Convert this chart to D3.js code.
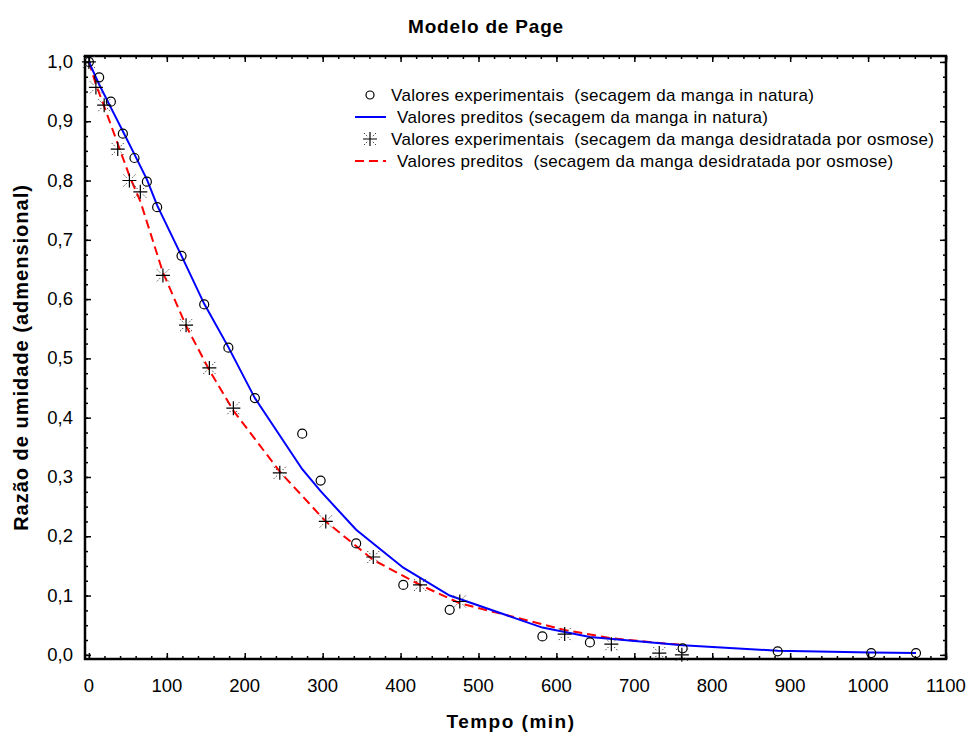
<!DOCTYPE html>
<html>
<head>
<meta charset="utf-8">
<script src="https://cdn.jsdelivr.net/npm/d3@7"></script>
<style>
  body { margin: 0; background: #fff; }
  text { font-family: "Liberation Sans", Arial, sans-serif; fill: #000; }
</style>
</head>
<body>
<svg id="chart" width="972" height="736"></svg>
<script>
// experimental + predicted (in natura)
const tNatura = [0, 13.2, 28.2, 43.6, 58.5, 74.4, 87.6, 118.9, 148, 179, 213, 273.8, 297.4, 343, 403.5, 463, 582, 643, 762, 884, 1004, 1061.5];
const mrNatura = [1.0, 0.974, 0.933, 0.879, 0.838, 0.798, 0.755, 0.673, 0.591, 0.518, 0.433, 0.373, 0.294, 0.188, 0.118, 0.076, 0.031, 0.021, 0.011, 0.006, 0.003, 0.003];
const predNatura = [1.0, 0.962, 0.923, 0.883, 0.844, 0.802, 0.758, 0.673, 0.592, 0.519, 0.433, 0.313, 0.276, 0.211, 0.147, 0.100, 0.046, 0.030, 0.016, 0.007, 0.004, 0.003];

// experimental + predicted (desidratada por osmose)
const tOsmose = [0, 9, 19.6, 37, 52, 66, 95, 124.7, 154.6, 185.4, 245, 304, 365, 425, 476, 610.6, 670.5, 732, 761];
const mrOsmose = [1.0, 0.957, 0.927, 0.853, 0.800, 0.781, 0.640, 0.556, 0.484, 0.416, 0.307, 0.225, 0.165, 0.118, 0.090, 0.035, 0.018, 0.003, 0.000];
const predOsmose = [1.0, 0.962, 0.925, 0.862, 0.808, 0.765, 0.645, 0.555, 0.480, 0.412, 0.309, 0.225, 0.160, 0.118, 0.087, 0.042, 0.028, 0.020, 0.017];

const xTicks = d3.range(0, 1101, 100);
const yTicks = d3.range(0, 10.5, 1).map(d => d / 10);

const legendLabels = [
  'Valores experimentais  (secagem da manga in natura)',
  'Valores preditos (secagem da manga in natura)',
  'Valores experimentais  (secagem da manga desidratada por osmose)',
  'Valores preditos  (secagem da manga desidratada por osmose)'
];

const svg = d3.select('#chart');
const plotL = 85, plotR = 946, plotT = 56, plotB = 659;

const x = d3.scaleLinear().domain([-5, 1100]).range([plotL, plotR]);
const y = d3.scaleLinear().domain([-0.007, 1.01]).range([plotB, plotT]);

const fmt = d3.format('.1f');
const comma = d => fmt(d).replace('.', ',');

// ticks pointing inward on all four sides
const g = svg.append('g');
const xMinor = d3.range(0, 1101, 20);
const yMinor = d3.range(0, 41, 1).map(d => d / 40);

g.append('g').attr('transform', `translate(0,${plotB})`)
  .call(d3.axisTop(x).tickValues(xMinor).tickSize(3).tickFormat(''));
g.append('g').attr('transform', `translate(0,${plotB})`)
  .call(d3.axisTop(x).tickValues(xTicks).tickSize(6).tickFormat(''));
g.append('g').attr('transform', `translate(0,${plotT})`)
  .call(d3.axisBottom(x).tickValues(xMinor).tickSize(3).tickFormat(''));
g.append('g').attr('transform', `translate(0,${plotT})`)
  .call(d3.axisBottom(x).tickValues(xTicks).tickSize(6).tickFormat(''));
g.append('g').attr('transform', `translate(${plotL},0)`)
  .call(d3.axisRight(y).tickValues(yMinor).tickSize(3).tickFormat(''));
g.append('g').attr('transform', `translate(${plotL},0)`)
  .call(d3.axisRight(y).tickValues(yTicks).tickSize(6).tickFormat(''));
g.append('g').attr('transform', `translate(${plotR},0)`)
  .call(d3.axisLeft(y).tickValues(yMinor).tickSize(3).tickFormat(''));
g.append('g').attr('transform', `translate(${plotR},0)`)
  .call(d3.axisLeft(y).tickValues(yTicks).tickSize(6).tickFormat(''));
g.selectAll('.domain').remove();
g.selectAll('.tick line').attr('stroke', '#000').attr('stroke-width', 1.5);

// tick labels
svg.append('g').selectAll('text').data(xTicks).join('text')
  .attr('x', d => x(d)).attr('y', 692)
  .attr('text-anchor', 'middle').attr('font-size', 18.5)
  .text(d => d);
svg.append('g').selectAll('text').data(yTicks).join('text')
  .attr('x', 73).attr('y', d => y(d) + 6)
  .attr('text-anchor', 'end').attr('font-size', 18.5)
  .text(comma);

// frame
svg.append('rect').attr('x', plotL).attr('y', plotT)
  .attr('width', plotR - plotL).attr('height', plotB - plotT)
  .attr('fill', 'none').attr('stroke', '#000').attr('stroke-width', 2.5);

const plot = svg.append('g');

const line = d3.line().x(d => x(d[0])).y(d => y(d[1]));

plot.append('path')
  .datum(d3.zip(tOsmose, predOsmose))
  .attr('d', line).attr('fill', 'none')
  .attr('stroke', '#ff0000').attr('stroke-width', 2).attr('stroke-dasharray', '9,5');

plot.append('path')
  .datum(d3.zip(tNatura, predNatura))
  .attr('d', line).attr('fill', 'none')
  .attr('stroke', '#0000ff').attr('stroke-width', 2);

const drawStar = (sel) => {
  sel.append('path').attr('d', 'M-7,0H7M0,-7V7')
    .attr('stroke', '#000').attr('stroke-width', 1.2);
  sel.append('path').attr('d', 'M-6,-6L-2.5,-2.5M6,-6L2.5,-2.5M-6,6L-2.5,2.5M6,6L2.5,2.5')
    .attr('stroke', '#444').attr('stroke-width', 1).attr('stroke-dasharray', '1.5,1.5');
};

plot.selectAll('circle.exp')
  .data(d3.zip(tNatura, mrNatura)).join('circle')
  .attr('class', 'exp')
  .attr('cx', d => x(d[0])).attr('cy', d => y(d[1]))
  .attr('r', 4.5).attr('fill', 'none').attr('stroke', '#000').attr('stroke-width', 1.2);

plot.selectAll('g.star')
  .data(d3.zip(tOsmose, mrOsmose)).join('g')
  .attr('class', 'star')
  .attr('transform', d => `translate(${x(d[0])},${y(d[1])})`)
  .call(drawStar);

// legend
const lg = svg.append('g');
const rowY = [95, 117, 139, 161];
const textX = [391, 397, 391, 397];
lg.append('circle').attr('cx', 370).attr('cy', rowY[0]).attr('r', 4)
  .attr('fill', 'none').attr('stroke', '#000').attr('stroke-width', 1.2);
lg.append('line').attr('x1', 355).attr('x2', 386).attr('y1', rowY[1]).attr('y2', rowY[1])
  .attr('stroke', '#0000ff').attr('stroke-width', 2);
lg.append('g').attr('transform', `translate(370,${rowY[2]})`).call(drawStar);
lg.append('line').attr('x1', 355).attr('x2', 386).attr('y1', rowY[3]).attr('y2', rowY[3])
  .attr('stroke', '#ff0000').attr('stroke-width', 2).attr('stroke-dasharray', '9,5');
lg.selectAll('text').data(legendLabels).join('text')
  .attr('x', (d, i) => textX[i]).attr('y', (d, i) => rowY[i] + 6)
  .attr('font-size', 17).attr('letter-spacing', 0.3)
  .style('white-space', 'pre')
  .text(d => d);

// titles
svg.append('text').attr('x', 486).attr('y', 33)
  .attr('text-anchor', 'middle').attr('font-size', 19).attr('font-weight', 'bold')
  .attr('letter-spacing', 0.8)
  .text('Modelo de Page');
svg.append('text').attr('x', 511).attr('y', 728)
  .attr('text-anchor', 'middle').attr('font-size', 19).attr('font-weight', 'bold')
  .attr('letter-spacing', 1.5)
  .text('Tempo (min)');
svg.append('text')
  .attr('transform', `translate(28,${(plotT + plotB) / 2}) rotate(-90)`)
  .attr('text-anchor', 'middle').attr('font-size', 20).attr('font-weight', 'bold')
  .attr('letter-spacing', 1)
  .text('Razão de umidade (admensional)');
</script>
</body>
</html>
